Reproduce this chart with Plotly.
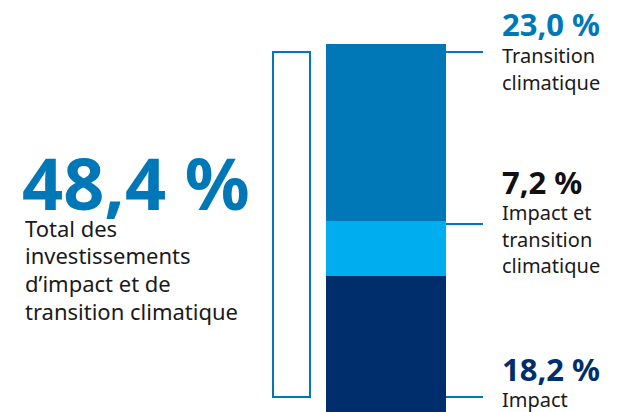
import plotly.graph_objects as go

# ---- data ----
segments = ["Impact", "Impact et transition climatique", "Transition climatique"]
values = [18.2, 7.2, 23.0]
colors = ["#002D6B", "#00AEEF", "#0077B6"]
label_lines = [["Impact"], ["Impact et", "transition", "climatique"], ["Transition", "climatique"]]
value_colors = ["#002D6B", "#111111", "#0077B6"]
total_label = ["Total des", "investissements", "d\u2019impact et de", "transition climatique"]

total = round(sum(values), 1)

def fmt(v):
    return f"{v:.1f}".replace(".", ",") + " %"

W, H = 623, 412
FONT = "Noto Sans"
TXT = "#1a1a1a"

def px(x):
    return x / W

def py(y):
    return 1 - y / H

fig = go.Figure()
for name, v, c in zip(segments, values, colors):
    fig.add_trace(go.Bar(x=[0], y=[v], width=1, name=name, marker=dict(color=c, line=dict(width=0)),
                         showlegend=False, hoverinfo="skip"))

line_col = "#0077B6"
# bracket (rectangle outline)
fig.add_shape(type="rect", xref="paper", yref="paper",
              x0=px(273), x1=px(310), y0=py(397), y1=py(52),
              line=dict(color=line_col, width=2), fillcolor="rgba(0,0,0,0)")
# connector lines
for yy in [52, 224, 397]:
    fig.add_shape(type="line", xref="paper", yref="paper",
                  x0=px(446), x1=px(483), y0=py(yy), y1=py(yy),
                  line=dict(color=line_col, width=2))

ann = []
# big total
ann.append(dict(text=f"<b>{fmt(total)}</b>", x=px(20), y=py(181.5), xanchor="left", yanchor="middle",
                font=dict(family=FONT, size=72, color="#0077B6")))
# total description, one annotation per line for exact spacing
body = 22
for i, line in enumerate(total_label):
    base = 236 + i * 27.7
    ann.append(dict(text=line, x=px(23), y=py(base - 1.15 * body), xanchor="left", yanchor="top",
                    align="left", font=dict(family=FONT, size=body, color=TXT)))

# right labels: (value center y, first-line baseline y)
pos = [(369, 407), (182, 220), (23.5, 63.3)]
rs = 20
for v, lines, vc, (vy, base) in zip(values, label_lines, value_colors, pos):
    ann.append(dict(text=f"<b>{fmt(v)}</b>", x=px(500), y=py(vy), xanchor="left", yanchor="middle",
                    font=dict(family=FONT, size=31, color=vc)))
    for j, line in enumerate(lines):
        b = base + j * 26.7
        ann.append(dict(text=line, x=px(500), y=py(b - 1.15 * rs), xanchor="left", yanchor="top",
                        align="left", font=dict(family=FONT, size=rs, color=TXT)))

for a in ann:
    a.update(xref="paper", yref="paper", showarrow=False)

# axis ranges so bar lands at 326..446 px and spans bottom 416 to top 44 px
bar_px_w = 120
center_px = 386
x_lo = -center_px / bar_px_w
x_hi = (W - center_px) / bar_px_w
unit = (416 - 44) / total
y_lo = -(H - 416) / unit
y_hi = total + 44 / unit

fig.update_layout(
    width=W, height=H, margin=dict(l=0, r=0, t=0, b=0),
    barmode="stack", bargap=0,
    paper_bgcolor="white", plot_bgcolor="white",
    xaxis=dict(range=[x_lo, x_hi], visible=False, fixedrange=True),
    yaxis=dict(range=[y_lo, y_hi], visible=False, fixedrange=True),
    annotations=ann,
)
fig.write_html("out.html", config={"displayModeBar": False},
               post_script="document.body.style.margin='0';document.body.style.overflow='hidden';")
